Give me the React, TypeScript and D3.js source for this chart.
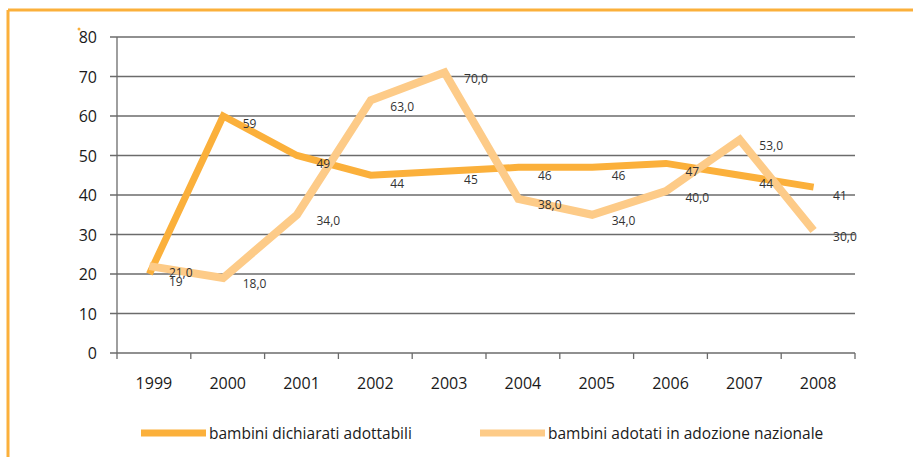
import React from "react";
import * as d3 from "d3";

const years = ["1999", "2000", "2001", "2002", "2003", "2004", "2005", "2006", "2007", "2008"];
const dichiarati = [19, 59, 49, 44, 45, 46, 46, 47, 44, 41];
const adottati = [21, 18, 34, 63, 70, 38, 34, 40, 53, 30];
const yTicks = [0, 10, 20, 30, 40, 50, 60, 70, 80];
const seriesNames = ["bambini dichiarati adottabili", "bambini adotati in adozione nazionale"];

const W = 913;
const H = 457;
const C_DARK = "#FBB03B";
const C_LIGHT = "#FDCB88";
const FONT = "'Open Sans', 'DejaVu Sans', sans-serif";

export default function App() {
  const x = d3.scaleBand<string>().domain(years).range([117, 855]);
  const y = d3.scaleLinear().domain([0, 80]).range([353, 37]);
  const cx = (d: string) => (x(d) as number) + x.bandwidth() / 2;
  const line = d3
    .line<number>()
    .x((_, i) => cx(years[i]))
    .y((v) => y(v));

  const series = [
    { values: dichiarati, color: C_DARK, width: 7, fmt: (v: number) => String(v), dy: 4 },
    { values: adottati, color: C_LIGHT, width: 8, fmt: (v: number) => v.toFixed(1).replace(".", ","), dy: 2 },
  ];

  const lineShift = y(1) - y(0);

  return (
    <svg width={W} height={H} style={{ position: "absolute", left: 0, top: 0, background: "#fff" }} fontFamily={FONT}>
      {/* frame */}
      <line x1={8} y1={10} x2={W} y2={10} stroke={C_DARK} strokeWidth={3} />
      <line x1={8} y1={10} x2={8} y2={H} stroke={C_DARK} strokeWidth={3} />
      <circle cx={79} cy={29} r={1.5} fill={C_DARK} />

      {/* grid + y ticks */}
      {yTicks.map((t) => (
        <g key={t}>
          <line x1={110} x2={855} y1={y(t)} y2={y(t)} stroke="#6b6b6b" strokeWidth={1.3} />
          <text x={97} y={y(t)} textAnchor="end" dominantBaseline="central" fontSize={16} fill="#1a1a1a">
            {t}
          </text>
        </g>
      ))}
      <line x1={117} x2={117} y1={37} y2={359} stroke="#6b6b6b" strokeWidth={1.3} />
      {/* x ticks */}
      {years.map((yr) => (
        <g key={yr}>
          <line
            x1={(x(yr) as number) + x.bandwidth()}
            x2={(x(yr) as number) + x.bandwidth()}
            y1={353}
            y2={359}
            stroke="#6b6b6b"
            strokeWidth={1.3}
          />
          <text x={cx(yr)} y={383} textAnchor="middle" dominantBaseline="central" fontSize={16} fill="#1a1a1a">
            {yr}
          </text>
        </g>
      ))}

      {/* lines */}
      <g transform={`translate(-4.5, ${lineShift})`}>
        {series.map((s, k) => (
          <path
            key={k}
            d={line(s.values) || ""}
            fill="none"
            stroke={s.color}
            strokeWidth={s.width}
            strokeLinejoin="miter"
          />
        ))}
      </g>

      {/* labels */}
      {series.map((s, k) =>
        s.values.map((v, i) => (
          <text
            key={`${k}-${i}`}
            x={cx(years[i]) + 15}
            y={y(v) + s.dy}
            dominantBaseline="central"
            fontSize={12}
            fill="#333"
          >
            {s.fmt(v)}
          </text>
        ))
      )}

      {/* legend */}
      {series.map((s, k) => {
        const lx = k === 0 ? 141 : 480;
        return (
          <g key={k}>
            <line x1={lx} x2={lx + 65} y1={433} y2={433} stroke={s.color} strokeWidth={7} />
            <text x={lx + 68} y={433} dominantBaseline="central" fontSize={15.5} fill="#1a1a1a">
              {seriesNames[k]}
            </text>
          </g>
        );
      })}
    </svg>
  );
}
